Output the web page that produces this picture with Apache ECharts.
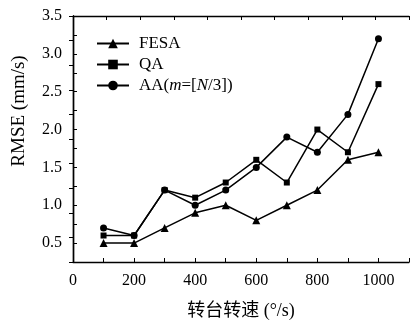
<!DOCTYPE html>
<html>
<head>
<meta charset="utf-8">
<script src="https://cdn.jsdelivr.net/npm/echarts@6/dist/echarts.min.js"></script>
<style>
html,body{margin:0;padding:0;background:#fff;}
#c{width:412px;height:327px;}
</style>
</head>
<body>
<div id="c"></div>
<script>
const speeds = [100, 200, 300, 400, 500, 600, 700, 800, 900, 1000];
const fesa = [0.5, 0.5, 0.7, 0.9, 1.0, 0.8, 1.0, 1.2, 1.6, 1.7];
const qa   = [0.6, 0.6, 1.2, 1.1, 1.3, 1.6, 1.3, 2.0, 1.7, 2.6];
const aa   = [0.7, 0.6, 1.2, 1.0, 1.2, 1.5, 1.9, 1.7, 2.2, 3.2];
const seriesNames = ['FESA', 'QA', 'AA(m=[N/3])'];
const xTickLabels = [0, 200, 400, 600, 800, 1000];
const yTickLabels = [0.5, 1.0, 1.5, 2.0, 2.5, 3.0, 3.5];

const SERIF = '"Liberation Serif", "DejaVu Serif", "Noto Sans CJK SC", serif';
const pair = arr => speeds.map((x, i) => [x, arr[i]]);

const chart = echarts.init(document.getElementById('c'), null, {renderer: 'canvas'});
const axisLine = {show: true, lineStyle: {color: '#000', width: 1.4}};
const tick = {show: true, inside: true, length: 4, lineStyle: {color: '#000', width: 1}};

function mkSeries(name, data, symbol, size) {
  return {
    name: name, type: 'line', data: pair(data),
    symbol: symbol, symbolSize: size,
    lineStyle: {color: '#000', width: 1.5},
    itemStyle: {color: '#000'},
    animation: false
  };
}

chart.setOption({
  animation: false,
  grid: {left: 73, top: 16, right: -3, bottom: 65, containLabel: false},
  legend: {
    left: 91, top: 30, orient: 'vertical',
    itemWidth: 32, itemHeight: 12, itemGap: 4,
    data: seriesNames,
    formatter: function (name) {
      if (name === 'AA(m=[N/3])') return '{t|AA(}{i|m}{t|=[}{i|N}{t|/3])}';
      return '{t|' + name + '}';
    },
    textStyle: {
      padding: [0, 0, 0, 5],
      rich: {
        t: {fontFamily: SERIF, fontSize: 17, color: '#000', lineHeight: 17},
        i: {fontFamily: SERIF, fontSize: 17, color: '#000', fontStyle: 'italic', lineHeight: 17}
      }
    }
  },
  xAxis: [{
    type: 'value', min: 0, max: 1100, interval: 100, position: 'bottom',
    axisLine: axisLine, axisTick: tick, splitLine: {show: false},
    axisLabel: {
      color: '#000', fontFamily: SERIF, fontSize: 16, margin: 11,
      formatter: v => xTickLabels.indexOf(v) >= 0 ? String(v) : ''
    },
    name: '转台转速 (°/s)', nameLocation: 'middle', nameGap: 40,
    nameTextStyle: {color: '#000', fontFamily: SERIF, fontSize: 18}
  }, {
    type: 'value', min: 0, max: 10, interval: 1, position: 'top',
    axisLine: axisLine, axisTick: tick, splitLine: {show: false},
    axisLabel: {show: false}
  }],
  yAxis: [{
    type: 'value', min: 0.25, max: 3.5, interval: 0.25, position: 'left',
    axisLine: axisLine, axisTick: tick, splitLine: {show: false},
    axisLabel: {
      color: '#000', fontFamily: SERIF, fontSize: 16, margin: 11,
      formatter: v => {
        const m = yTickLabels.find(t => Math.abs(t - v) < 1e-6);
        return m !== undefined ? m.toFixed(1) : '';
      }
    },
    name: 'RMSE (mm/s)', nameLocation: 'middle', nameGap: 44, nameRotate: 90,
    nameTextStyle: {color: '#000', fontFamily: SERIF, fontSize: 19, padding: [0, 0, 0, 56]}
  }, {
    type: 'value', min: 0, max: 10, interval: 1, position: 'right',
    axisLine: axisLine, axisTick: tick, splitLine: {show: false},
    axisLabel: {show: false}
  }],
  series: [
    mkSeries(seriesNames[0], fesa, 'triangle', 8),
    mkSeries(seriesNames[1], qa, 'rect', 6),
    mkSeries(seriesNames[2], aa, 'circle', 7)
  ]
});
</script>
</body>
</html>
